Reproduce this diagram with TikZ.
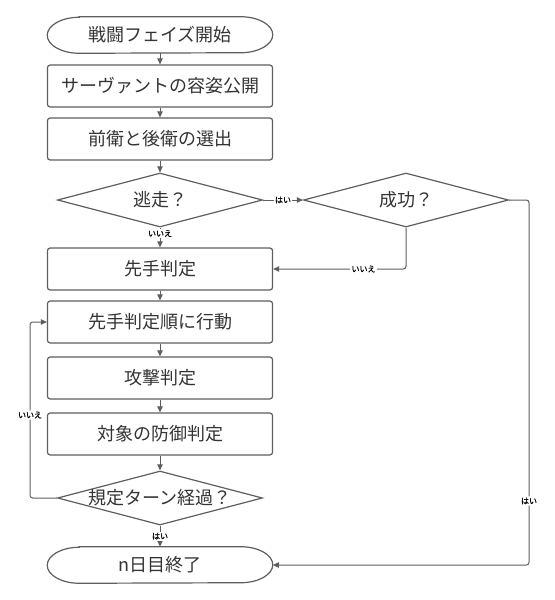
\documentclass[tikz,border=0pt]{standalone}
\usepackage{fontspec}
\setmainfont{Noto Sans CJK JP}
\newfontfamily\lblfont[FakeBold=1]{Noto Sans CJK JP}
\usepackage{xcolor}
\usepackage{tikz}
\usetikzlibrary{shapes.geometric, arrows.meta, calc}
\definecolor{edgegray}{HTML}{5E5E5E}
\definecolor{txtgray}{HTML}{333333}

\begin{document}
\begin{tikzpicture}[x=0.75pt, y=-0.75pt,
  box/.style={draw=edgegray, line width=0.9pt, rounded corners=2pt, minimum width=168.75pt, minimum height=31.5pt, text=txtgray, font=\fontsize{13.5}{16}\selectfont},
  term/.style={minimum width=168.75pt, minimum height=27pt, text=txtgray, font=\fontsize{13.5}{16}\selectfont},
  choice/.style={diamond, draw=edgegray, line width=0.9pt, aspect=3.8, inner sep=0pt, inner xsep=-3pt, minimum width=153.75pt, minimum height=40.5pt, text=txtgray, font=\fontsize{13.5}{16}\selectfont},
  flow/.style={draw=edgegray, line width=0.75pt, -{Triangle[length=4.5pt, width=4pt]}},
  lbl/.style={fill=white, inner sep=1pt, text=black, font=\lblfont\fontsize{6}{7}\selectfont}]
  \useasboundingbox (0,0) rectangle (554,600);

  % Steps
  \node[term] (start) at (160, 35) {戦闘フェイズ開始};
  \node[box] (reveal) at (160, 86) {サーヴァントの容姿公開};
  \node[box] (select) at (160, 139) {前衛と後衛の選出};
  \node[choice] (flee) at (160, 200) {逃走？};
  \node[choice] (success) at (406, 200) {成功？};
  \node[box] (init) at (160, 269) {先手判定};
  \node[box] (act) at (160, 322) {先手判定順に行動};
  \node[box] (attack) at (160, 378) {攻撃判定};
  \node[box] (defend) at (160, 434) {対象の防御判定};
  \node[choice] (turns) at (160, 498) {規定ターン経過？};
  \node[term] (finish) at (160, 565) {n日目終了};

  % Terminal outlines
  \foreach \n in {start, finish}
    \draw[draw=edgegray, line width=0.9pt] ($(\n.north west)+(32,0)$) -- ($(\n.north east)+(-32,0)$)
      arc[start angle=90, end angle=-90, x radius=24pt, y radius=13.5pt]
      -- ($(\n.south west)+(32,0)$)
      arc[start angle=270, end angle=90, x radius=24pt, y radius=13.5pt] -- cycle;

  % Bends
  \coordinate (rbend) at (529, 501);
  \coordinate (lbend) at (30, 415);

  % Connectors
  \draw[flow] (start) -- (reveal);
  \draw[flow] (reveal) -- (select);
  \draw[flow] (select) -- (flee);
  \draw[flow] (flee) -- node[lbl] {はい} (success);
  \draw[flow] (flee) -- node[lbl, pos=0.3] {いいえ} (init);
  \draw[flow, rounded corners=2pt] (success.south) |- node[lbl, pos=0.66] {いいえ} (init.east);
  \draw[flow] (init) -- (act);
  \draw[flow] (act) -- (attack);
  \draw[flow] (attack) -- (defend);
  \draw[flow] (defend) -- (turns);
  \draw[flow, rounded corners=2pt] (turns.west) -| (lbend) node[lbl] {いいえ} |- (act.west);
  \draw[flow] (turns) -- node[lbl] {はい} (finish);
  \draw[flow, rounded corners=2pt] (success.east) -| (rbend) node[lbl] {はい} |- (finish.east);
\end{tikzpicture}
\end{document}
